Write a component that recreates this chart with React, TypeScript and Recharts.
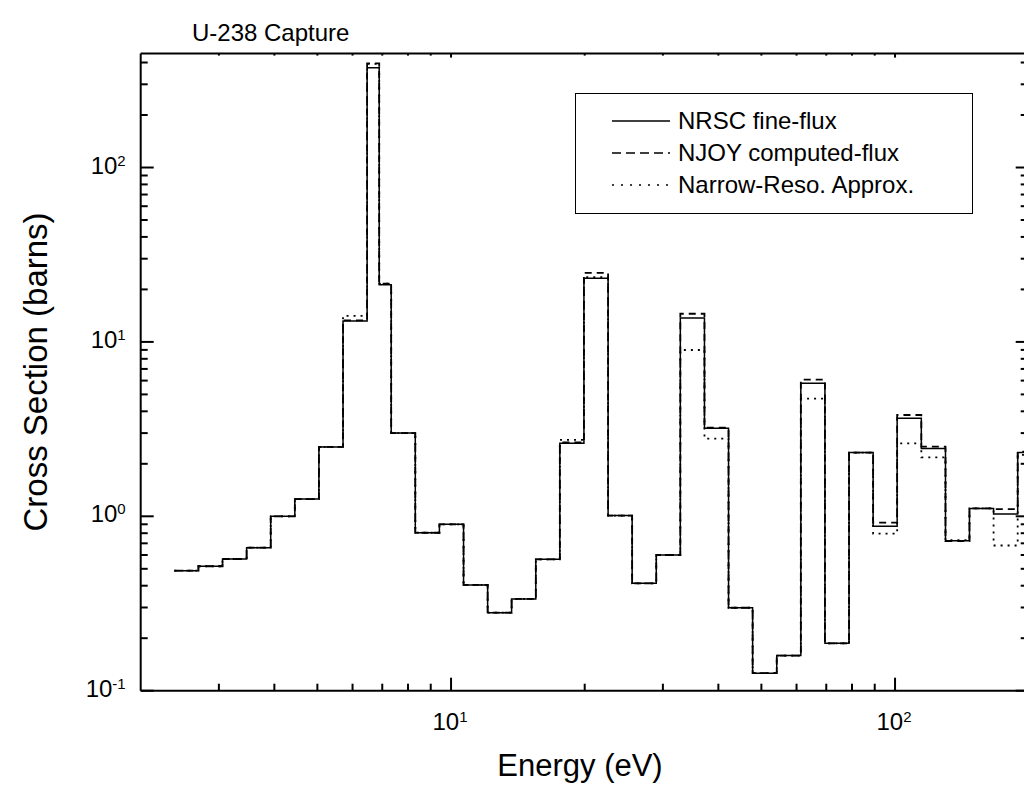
import React from 'react';
import { LineChart, Line, XAxis, YAxis, Legend } from 'recharts';

const FONT = '"Liberation Sans", Arial, Helvetica, sans-serif';

// Group boundaries (eV), read from the step positions
const energyEdges = [
  2.381, 2.698, 3.057, 3.464, 3.925, 4.448, 5.04, 5.711, 6.471, 6.89, 7.332, 8.308,
  9.414, 10.67, 12.09, 13.69, 15.52, 17.58, 19.92, 22.58, 25.58, 28.99, 32.84, 37.22,
  42.17, 47.78, 54.14, 61.35, 69.52, 78.77, 89.26, 101.1, 114.6, 129.9, 147.1, 166.7,
  188.9, 214.1,
];

// Group cross sections (barns), one per group
const nrscFineFlux = [
  0.488, 0.517, 0.569, 0.661, 1.0, 1.256, 2.5, 13.2, 373, 21.3, 3.0, 0.805,
  0.9, 0.404, 0.28, 0.336, 0.567, 2.62, 23.2, 1.01, 0.413, 0.6, 13.7, 3.2,
  0.299, 0.126, 0.159, 5.79, 0.187, 2.32, 0.876, 3.65, 2.45, 0.725, 1.11, 1.03,
  2.32,
];
const njoyComputedFlux = [
  0.488, 0.517, 0.569, 0.661, 1.0, 1.256, 2.5, 13.3, 396, 21.6, 3.0, 0.805,
  0.9, 0.404, 0.28, 0.336, 0.567, 2.65, 24.9, 1.01, 0.413, 0.6, 14.5, 3.22,
  0.299, 0.126, 0.159, 6.08, 0.187, 2.32, 0.919, 3.81, 2.51, 0.72, 1.11, 1.1,
  2.35,
];
const narrowResoApprox = [
  0.488, 0.517, 0.569, 0.661, 1.0, 1.256, 2.5, 14.1, 393, 21.6, 3.0, 0.805,
  0.9, 0.404, 0.28, 0.336, 0.567, 2.74, 23.5, 1.01, 0.413, 0.6, 8.99, 2.79,
  0.299, 0.126, 0.159, 4.73, 0.187, 2.32, 0.795, 2.62, 2.18, 0.73, 1.11, 0.68,
  2.25,
];

const seriesNames = ['NRSC fine-flux', 'NJOY computed-flux', 'Narrow-Reso. Approx.'];
const xTicks = [3, 4, 5, 6, 7, 8, 9, 10, 20, 30, 40, 50, 60, 70, 80, 90, 100];
const yTicks = [
  0.1, 0.2, 0.3, 0.4, 0.5, 0.6, 0.7, 0.8, 0.9,
  1, 2, 3, 4, 5, 6, 7, 8, 9,
  10, 20, 30, 40, 50, 60, 70, 80, 90,
  100, 200, 300, 400,
];
const titleText = 'U-238 Capture';
const xLabel = 'Energy (eV)';
const yLabel = 'Cross Section (barns)';

const rows = energyEdges.map((e, i) => {
  const j = Math.min(i, nrscFineFlux.length - 1);
  return { e, nrsc: nrscFineFlux[j], njoy: njoyComputedFlux[j], nr: narrowResoApprox[j] };
});

const isPow10 = (v: number) => Math.abs(Math.log10(v) - Math.round(Math.log10(v))) < 1e-9;
const expOf = (v: number) => String(Math.round(Math.log10(v)));

const BottomTick = (props: any) => {
  const { x, y, payload } = props;
  const v = payload.value;
  const major = isPow10(v);
  return (
    <g>
      <line x1={x} x2={x} y1={y} y2={y - (major ? 13 : 7)} stroke="#000" strokeWidth={2} />
      {major && (
        <text x={x - 1} y={y + 39} textAnchor="middle" fontSize={24} fontFamily={FONT} fill="#000">
          10<tspan dy={-8} fontSize={15}>{expOf(v)}</tspan>
        </text>
      )}
    </g>
  );
};

const TopTick = (props: any) => {
  const { x, y, payload } = props;
  const major = isPow10(payload.value);
  return <line x1={x} x2={x} y1={y} y2={y + (major ? 4 : 2)} stroke="#000" strokeWidth={2} />;
};

const LeftTick = (props: any) => {
  const { x, y, payload } = props;
  const v = payload.value;
  const major = isPow10(v);
  return (
    <g>
      <line x1={x} x2={x + (major ? 13 : 7)} y1={y} y2={y} stroke="#000" strokeWidth={2} />
      {major && (
        <text x={x - 15} y={y + 6} textAnchor="end" fontSize={24} fontFamily={FONT} fill="#000">
          10<tspan dy={-8} fontSize={15}>{expOf(v)}</tspan>
        </text>
      )}
    </g>
  );
};

const RightTick = (props: any) => {
  const { x, y, payload } = props;
  const major = isPow10(payload.value);
  return <line x1={x} x2={x - (major ? 13 : 8)} y1={y} y2={y} stroke="#000" strokeWidth={2} />;
};

const legendStyles = [
  { dash: undefined as string | undefined },
  { dash: '9 5' },
  { dash: '2 7' },
];

const LegendBox = () => (
  <div style={{ width: 398, height: 121, boxSizing: 'border-box', border: '1.5px solid #000', background: '#fff' }}>
    <svg width={396} height={118} style={{ display: 'block' }}>
      {seriesNames.map((name, i) => {
        const cy = 27 + i * 32;
        return (
          <g key={name}>
            <line x1={36} x2={94} y1={cy} y2={cy} stroke="#000" strokeWidth={1.5} strokeDasharray={legendStyles[i].dash} />
            <text x={102} y={cy + 8} fontSize={24} fontFamily={FONT} fill="#000">{name}</text>
          </g>
        );
      })}
    </svg>
  </div>
);

const axisLineStyle = { stroke: '#000', strokeWidth: 2 };

export default function App() {
  return (
    <div style={{ position: 'fixed', left: 0, top: 0, width: 1024, height: 794, overflow: 'hidden', background: '#fff' }}>
      <LineChart
        width={1100}
        height={794}
        data={rows}
        margin={{ top: 43.6, right: 61.3, bottom: 43.3, left: 80.7 }}
      >
        <XAxis
          xAxisId="b"
          type="number"
          dataKey="e"
          scale="log"
          domain={[2, 200]}
          allowDataOverflow
          ticks={xTicks}
          interval={0}
          tick={<BottomTick />}
          tickLine={false}
          tickSize={0}
          tickMargin={0}
          height={60}
          axisLine={axisLineStyle}
        />
        <XAxis
          xAxisId="t"
          orientation="top"
          type="number"
          dataKey="e"
          scale="log"
          domain={[2, 200]}
          allowDataOverflow
          ticks={xTicks}
          interval={0}
          tick={<TopTick />}
          tickLine={false}
          tickSize={0}
          tickMargin={0}
          height={10}
          axisLine={axisLineStyle}
        />
        <YAxis
          yAxisId="l"
          type="number"
          scale="log"
          domain={[0.1, 450]}
          allowDataOverflow
          ticks={yTicks}
          interval={0}
          tick={<LeftTick />}
          tickLine={false}
          tickSize={0}
          tickMargin={0}
          width={60}
          axisLine={axisLineStyle}
        />
        <YAxis
          yAxisId="r"
          orientation="right"
          type="number"
          scale="log"
          domain={[0.1, 450]}
          allowDataOverflow
          ticks={yTicks}
          interval={0}
          tick={<RightTick />}
          tickLine={false}
          tickSize={0}
          tickMargin={0}
          width={10}
          axisLine={axisLineStyle}
        />
        <Line
          xAxisId="t"
          yAxisId="r"
          dataKey="nrsc"
          stroke="none"
          dot={false}
          activeDot={false}
          legendType="none"
          isAnimationActive={false}
        />
        <Line
          xAxisId="b"
          yAxisId="l"
          type="stepAfter"
          dataKey="nr"
          name={seriesNames[2]}
          stroke="#000"
          strokeWidth={1.8}
          strokeDasharray="2 5"
          dot={false}
          activeDot={false}
          isAnimationActive={false}
        />
        <Line
          xAxisId="b"
          yAxisId="l"
          type="stepAfter"
          dataKey="njoy"
          name={seriesNames[1]}
          stroke="#000"
          strokeWidth={1.8}
          strokeDasharray="7 5"
          dot={false}
          activeDot={false}
          isAnimationActive={false}
        />
        <Line
          xAxisId="b"
          yAxisId="l"
          type="stepAfter"
          dataKey="nrsc"
          name={seriesNames[0]}
          stroke="#000"
          strokeWidth={1.5}
          dot={false}
          activeDot={false}
          isAnimationActive={false}
        />
        <Legend
          layout="vertical"
          align="center"
          verticalAlign="middle"
          content={<LegendBox />}
          wrapperStyle={{ left: 575, top: 92.7, width: 398, height: 121 }}
        />
      </LineChart>
      <svg width={1024} height={794} style={{ position: 'absolute', left: 0, top: 0, pointerEvents: 'none' }}>
        <text x={192} y={41} fontSize={24} fontFamily={FONT} fill="#000">{titleText}</text>
        <text x={580} y={776} textAnchor="middle" fontSize={31} fontFamily={FONT} fill="#000">{xLabel}</text>
        <text
          x={0}
          y={0}
          transform="translate(47 372) rotate(-90)"
          textAnchor="middle"
          fontSize={33}
          fontFamily={FONT}
          fill="#000"
        >
          {yLabel}
        </text>
      </svg>
    </div>
  );
}
